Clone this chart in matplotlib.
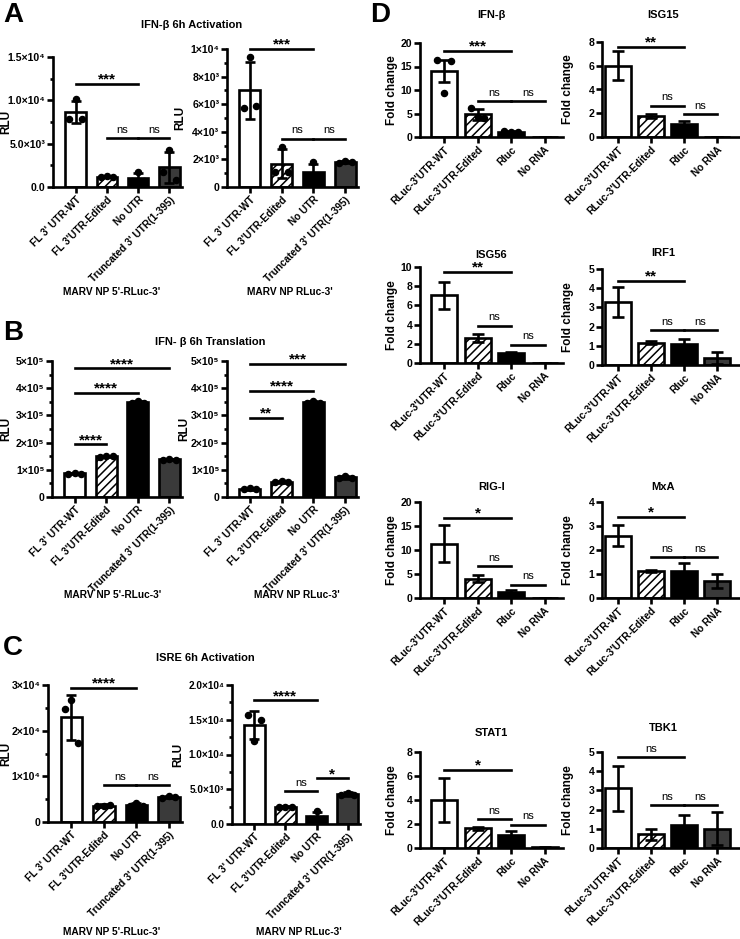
import matplotlib
matplotlib.use('Agg')
import matplotlib.pyplot as plt
from matplotlib.ticker import FixedLocator, MultipleLocator

plt.rcParams['font.family'] = ['Liberation Sans', 'DejaVu Sans']
plt.rcParams['font.weight'] = 'bold'
plt.rcParams['hatch.linewidth'] = 1.1

# ---------------- data ----------------
groups_ABC = ["FL 3' UTR-WT", "FL 3'UTR-Edited", "No UTR", "Truncated 3' UTR(1-395)"]
groups_D = ["RLuc-3'UTR-WT", "RLuc-3'UTR-Edited", "Rluc", "No RNA"]

# A: IFN-beta 6h activation
A1_mean = [8630, 1180, 1000, 2270]
A1_sd = [1300, 60, 600, 1800]
A1_pts = [[7870, 10150, 7870], [1150, 1220, 1180], [650, 1720, 650], [1700, 4300, 800]]
A2_mean = [7000, 1700, 1090, 1820]
A2_sd = [2080, 1040, 610, 80]
A2_pts = [[5700, 9400, 5900], [1100, 2900, 1100], [750, 1800, 750], [1750, 1900, 1800]]

# B: IFN-beta 6h translation
B1_mean = [87000, 149000, 348000, 138000]
B1_sd = [3000, 2000, 5000, 3000]
B1_pts = [[86000, 90000, 85000], [148000, 150000, 149000], [345000, 353000, 346000], [137000, 141000, 136000]]
B2_mean = [30000, 56000, 348000, 73000]
B2_sd = [3000, 3000, 5000, 5000]
B2_pts = [[29000, 33000, 28000], [55000, 58000, 55000], [346000, 353000, 345000], [70000, 78000, 71000]]

# C: ISRE 6h activation
C1_mean = [22900, 3600, 3800, 5500]
C1_sd = [5000, 300, 350, 300]
C1_pts = [[24700, 26700, 17200], [3600, 3500, 3700], [3600, 4200, 3600], [5300, 5800, 5400]]
C2_mean = [14200, 2480, 1100, 4300]
C2_sd = [2000, 80, 650, 250]
C2_pts = [[15700, 11900, 14900], [2450, 2500, 2480], [700, 1900, 700], [4200, 4500, 4200]]

# D: fold change, per gene
D_genes = ['IFN-β', 'ISG15', 'ISG56', 'IRF1', 'RIG-I', 'MxA', 'STAT1', 'TBK1']
D_means = [[14.0, 4.8, 1.1, 0.08], [6.0, 1.75, 1.1, 0.02], [7.05, 2.6, 1.05, 0.03], [3.28, 1.17, 1.08, 0.38],
           [11.3, 4.0, 1.2, 0.05], [2.6, 1.14, 1.14, 0.7], [4.0, 1.65, 1.1, 0.06], [3.1, 0.72, 1.2, 1.0]]
D_sds = [[2.4, 1.2, 0.15, 0.02], [1.2, 0.15, 0.25, 0.0], [1.4, 0.4, 0.12, 0.0], [0.8, 0.08, 0.27, 0.32],
         [3.9, 0.7, 0.5, 0.0], [0.45, 0.04, 0.3, 0.3], [1.85, 0.12, 0.35, 0.02], [1.15, 0.28, 0.52, 0.85]]
D_ifnb_pts = [[16.4, 9.3, 16.1], [6.1, 4.3, 4.0], [1.2, 1.0, 1.1], []]
D_ymax = [20, 8, 10, 5, 20, 4, 8, 5]
D_ystep = [5, 2, 2, 1, 5, 1, 2, 1]

# significance brackets: (i, j, height, label)
A1_sig = [(0, 2, 11900, '***'), (1, 2, 5650, 'ns'), (2, 3, 5650, 'ns')]
A2_sig = [(0, 2, 10000, '***'), (1, 2, 3500, 'ns'), (2, 3, 3500, 'ns')]
B1_sig = [(0, 1, 194000, '****'), (0, 2, 383000, '****'), (0, 3, 473000, '****')]
B2_sig = [(0, 1, 292000, '**'), (0, 2, 390000, '****'), (0, 3, 490000, '***')]
C1_sig = [(0, 2, 29400, '****'), (1, 2, 8000, 'ns'), (2, 3, 8000, 'ns')]
C2_sig = [(0, 2, 17800, '****'), (1, 2, 4750, 'ns'), (2, 3, 6550, '*')]
D_sig = [[(0, 2, 18.3, '***'), (1, 2, 7.6, 'ns'), (2, 3, 7.6, 'ns')],
         [(0, 2, 7.6, '**'), (1, 2, 2.65, 'ns'), (2, 3, 1.9, 'ns')],
         [(0, 2, 9.5, '**'), (1, 2, 3.9, 'ns'), (2, 3, 1.9, 'ns')],
         [(0, 2, 4.4, '**'), (1, 2, 1.8, 'ns'), (2, 3, 1.8, 'ns')],
         [(0, 2, 16.7, '*'), (1, 2, 6.6, 'ns'), (2, 3, 2.8, 'ns')],
         [(0, 2, 3.38, '*'), (1, 2, 1.7, 'ns'), (2, 3, 1.7, 'ns')],
         [(0, 2, 6.5, '*'), (1, 2, 2.4, 'ns'), (2, 3, 1.93, 'ns')],
         [(0, 2, 4.74, 'ns'), (1, 2, 2.24, 'ns'), (2, 3, 2.24, 'ns')]]

# y tick labels
A1_ticks = [0, 5000, 10000, 15000]
A1_tlab = ['0.0', '5.0×10³', '1.0×10⁴', '1.5×10⁴']
A2_ticks = [0, 2000, 4000, 6000, 8000, 10000]
A2_tlab = ['0', '2×10³', '4×10³', '6×10³', '8×10³', '1×10⁴']
B_ticks = [0, 100000, 200000, 300000, 400000, 500000]
B_tlab = ['0', '1×10⁵', '2×10⁵', '3×10⁵', '4×10⁵', '5×10⁵']
C1_ticks = [0, 10000, 20000, 30000]
C1_tlab = ['0', '1×10⁴', '2×10⁴', '3×10⁴']
C2_ticks = [0, 5000, 10000, 15000, 20000]
C2_tlab = ['0.0', '5.0×10³', '1.0×10⁴', '1.5×10⁴', '2.0×10⁴']

# ---------------- styling ----------------
W, H = 740, 939
fig = plt.figure(figsize=(W / 100, H / 100), dpi=100)
FILLS = ['white', 'white', 'black', '#3a3a3a']
HATCHES = [None, '////', None, None]
LW = 1.9


def px_axes(l, t, r, b):
    return fig.add_axes([l / W, 1 - b / H, (r - l) / W, (b - t) / H])


def ftext(x, y, s, **kw):
    fig.text(x / W, 1 - y / H, s, **kw)


def draw_panel(rect, means, sds, pts, labels, ticks, tlabels, minor, sig, xlim,
               width, ylabel, ylab_x, capsize, tick_fs=7.6, star_fs=11):
    l, t, r, b = rect
    ax = px_axes(l, t, r, b)
    x = list(range(len(means)))
    for i in x:
        ax.bar(i, means[i], width=width, color=FILLS[i], edgecolor='black',
               linewidth=LW, hatch=HATCHES[i], zorder=2)
    ax.errorbar(x, means, yerr=sds, fmt='none', ecolor='black', elinewidth=LW,
                capsize=capsize, capthick=LW, zorder=3)
    if pts is not None:
        offs = [-0.2, 0.0, 0.2]
        for i in x:
            if len(pts[i]):
                ax.plot([i + o for o in offs[:len(pts[i])]], pts[i], 'o', color='black',
                        ms=4.4, zorder=4, clip_on=False)
    ax.set_xlim(*xlim)
    ax.set_ylim(ticks[0], ticks[-1])
    ax.yaxis.set_major_locator(FixedLocator(ticks))
    ax.set_yticklabels(tlabels, fontsize=tick_fs, fontweight='bold')
    if minor:
        ax.yaxis.set_minor_locator(MultipleLocator(minor))
    ax.set_xticks(x)
    ax.set_xticklabels(labels, rotation=45, ha='right', rotation_mode='anchor',
                       fontsize=7.3, fontweight='bold')
    for s in ['top', 'right']:
        ax.spines[s].set_visible(False)
    for s in ['left', 'bottom']:
        ax.spines[s].set_linewidth(LW)
    ax.tick_params(axis='both', which='major', width=LW, length=4, pad=1.5)
    ax.tick_params(axis='y', which='minor', width=LW, length=2.5)
    ax.set_ylabel(ylabel, fontsize=8.5, fontweight='bold')
    ax.yaxis.set_label_coords((ylab_x - l) / (r - l), 0.5)
    for (i, j, y, lab) in sig:
        ax.plot([i, j], [y, y], color='black', lw=LW, clip_on=False, zorder=5)
        if lab == 'ns':
            ax.annotate(lab, xy=((i + j) / 2, y), xytext=(0, 2.5), textcoords='offset points',
                        ha='center', va='bottom', fontsize=8, fontweight='normal',
                        annotation_clip=False)
        else:
            ax.annotate(lab, xy=((i + j) / 2, y), xytext=(0, -2), textcoords='offset points',
                        ha='center', va='bottom', fontsize=star_fs, fontweight='bold',
                        annotation_clip=False)
    return ax


XL = (-0.72, 3.4)
WD = 0.66
# Panel A
draw_panel((53, 57, 182, 187), A1_mean, A1_sd, A1_pts, groups_ABC, A1_ticks, A1_tlab, 2500,
           A1_sig, XL, WD, 'RLU', 12, 3.5)
draw_panel((227, 49, 358, 187), A2_mean, A2_sd, A2_pts, groups_ABC, A2_ticks, A2_tlab, 1000,
           A2_sig, XL, WD, 'RLU', 186, 3.5)
# Panel B
draw_panel((52, 361, 182, 497), B1_mean, B1_sd, B1_pts, groups_ABC, B_ticks, B_tlab, 50000,
           B1_sig, XL, WD, 'RLU', 12, 3.5)
draw_panel((227, 361, 358, 497), B2_mean, B2_sd, B2_pts, groups_ABC, B_ticks, B_tlab, 50000,
           B2_sig, XL, WD, 'RLU', 190, 3.5)
# Panel C
draw_panel((48, 685, 182, 822), C1_mean, C1_sd, C1_pts, groups_ABC, C1_ticks, C1_tlab, 5000,
           C1_sig, XL, WD, 'RLU', 12, 3.5)
draw_panel((232, 685, 360, 824), C2_mean, C2_sd, C2_pts, groups_ABC, C2_ticks, C2_tlab, 2500,
           C2_sig, XL, WD, 'RLU', 184, 3.5, tick_fs=7.2)

# Panel D
rows_left = [(43, 137), (267, 363), (502, 598), (752, 848)]
rows_right = [(42, 137), (269, 365), (502, 598), (752, 848)]
title_y_left = [15, 255, 487, 733]
title_y_right = [15, 253, 487, 728]
for k, gene in enumerate(D_genes):
    row, col = divmod(k, 2)
    if col == 0:
        t, b = rows_left[row]
        rect = (420, t, 563, b)
        xl = (-0.72, 3.55)
        ylx = 398
        ty = title_y_left[row]
    else:
        t, b = rows_right[row]
        rect = (602, t, 740, b)
        xl = (-0.48, 3.69)
        ylx = 574
        ty = title_y_right[row]
    ticks = list(range(0, D_ymax[k] + 1, D_ystep[k]))
    pts = D_ifnb_pts if k == 0 else None
    ax = draw_panel(rect, D_means[k], D_sds[k], pts, groups_D, ticks, [str(v) for v in ticks], None,
                    D_sig[k], xl, 0.78, 'Fold change', ylx, 4.5)
    ftext((rect[0] + rect[2]) / 2 + (0 if col == 0 else -8), ty, gene, ha='center', va='center',
          fontsize=8, fontweight='bold')

# titles / letters / group labels
ftext(192, 25, 'IFN-β 6h Activation', ha='center', va='center', fontsize=8, fontweight='bold')
ftext(210, 342, 'IFN- β 6h Translation', ha='center', va='center', fontsize=8, fontweight='bold')
ftext(205, 658, 'ISRE 6h Activation', ha='center', va='center', fontsize=8, fontweight='bold')
for (lx, ly, L) in [(13, 15, 'A'), (13, 333, 'B'), (13, 648, 'C'), (380, 15, 'D')]:
    ftext(lx, ly, L, ha='center', va='center', fontsize=20, fontweight='bold')
for (gx, gy, s) in [(112, 292, "MARV NP 5'-RLuc-3'"), (290, 292, "MARV NP RLuc-3'"),
                    (113, 595, "MARV NP 5'-RLuc-3'"), (297, 595, "MARV NP RLuc-3'"),
                    (112, 932, "MARV NP 5'-RLuc-3'"), (299, 932, "MARV NP RLuc-3'")]:
    ftext(gx, gy, s, ha='center', va='center', fontsize=7.3, fontweight='bold')

fig.savefig('out.png', dpi=100)
